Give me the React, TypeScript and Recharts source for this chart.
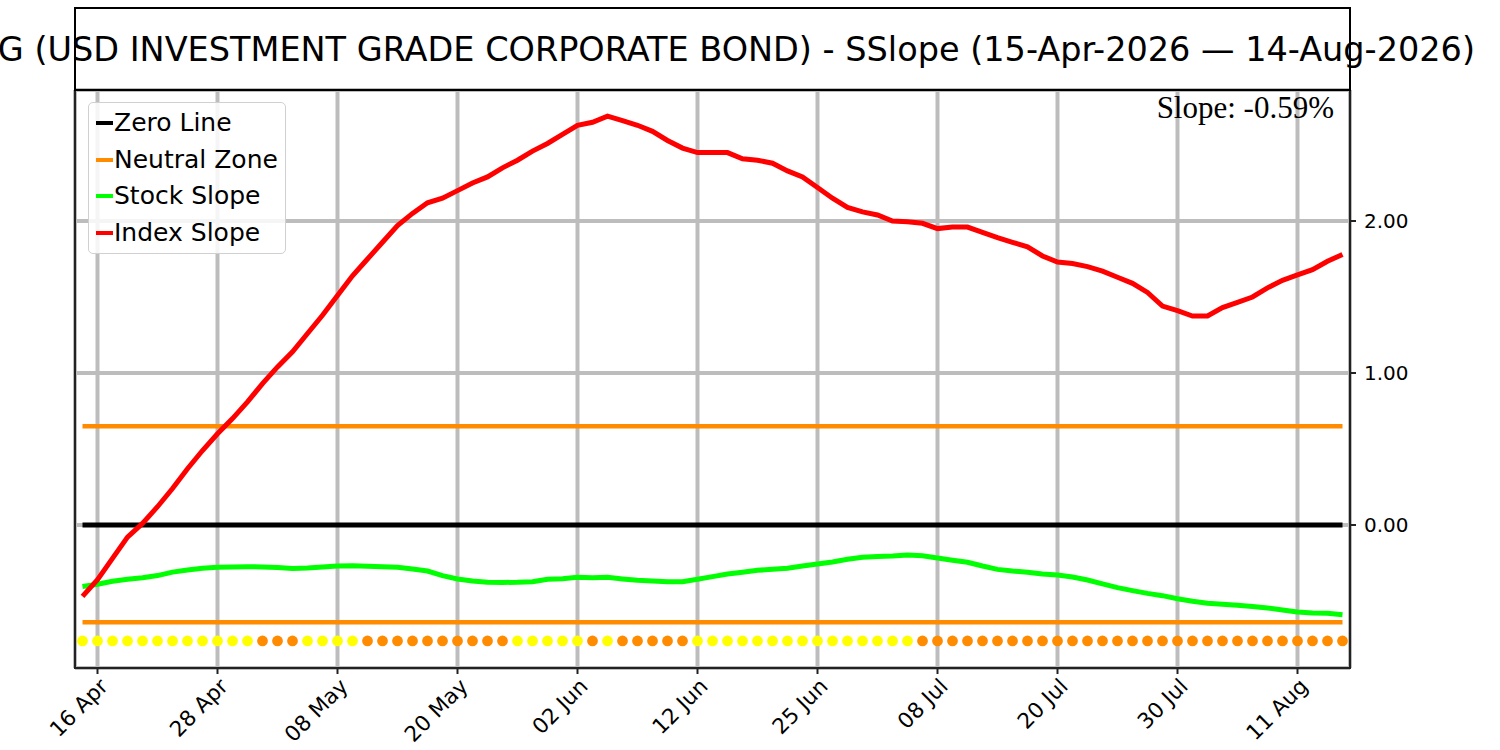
import React from "react";
import { ComposedChart, Line, XAxis, YAxis, CartesianGrid } from "recharts";

// one entry per trading day, 15-Apr-2026 .. 14-Aug-2026
const dates = [
  "15 Apr", "16 Apr", "17 Apr", "20 Apr", "21 Apr", "22 Apr", "23 Apr", "24 Apr", "27 Apr", "28 Apr",
  "29 Apr", "30 Apr", "01 May", "04 May", "05 May", "06 May", "07 May", "08 May", "11 May", "12 May",
  "13 May", "14 May", "15 May", "18 May", "19 May", "20 May", "21 May", "22 May", "26 May", "27 May",
  "28 May", "29 May", "01 Jun", "02 Jun", "03 Jun", "04 Jun", "05 Jun", "08 Jun", "09 Jun", "10 Jun",
  "11 Jun", "12 Jun", "15 Jun", "16 Jun", "17 Jun", "18 Jun", "22 Jun", "23 Jun", "24 Jun", "25 Jun",
  "26 Jun", "29 Jun", "30 Jun", "01 Jul", "02 Jul", "06 Jul", "07 Jul", "08 Jul", "09 Jul", "10 Jul",
  "13 Jul", "14 Jul", "15 Jul", "16 Jul", "17 Jul", "20 Jul", "21 Jul", "22 Jul", "23 Jul", "24 Jul",
  "27 Jul", "28 Jul", "29 Jul", "30 Jul", "31 Jul", "03 Aug", "04 Aug", "05 Aug", "06 Aug", "07 Aug",
  "10 Aug", "11 Aug", "12 Aug", "13 Aug", "14 Aug",
];

const indexSlope = [
  -0.47, -0.36, -0.22, -0.08, 0.01, 0.12, 0.24, 0.37, 0.49, 0.6,
  0.7, 0.81, 0.93, 1.04, 1.14, 1.26, 1.38, 1.51, 1.64, 1.75,
  1.86, 1.97, 2.05, 2.12, 2.15, 2.2, 2.25, 2.29, 2.35, 2.4,
  2.46, 2.51, 2.57, 2.63, 2.65, 2.69, 2.66, 2.63, 2.59, 2.53,
  2.48, 2.45, 2.45, 2.45, 2.41, 2.4, 2.38, 2.33, 2.29, 2.22,
  2.15, 2.09, 2.06, 2.04, 2.0, 1.995, 1.985, 1.95, 1.96, 1.96,
  1.925, 1.89, 1.86, 1.83, 1.77, 1.73, 1.72, 1.7, 1.67, 1.63,
  1.59, 1.53, 1.44, 1.41, 1.375, 1.375, 1.43, 1.465, 1.5, 1.56,
  1.61, 1.645, 1.68, 1.735, 1.78,
];

const stockSlope = [
  -0.405, -0.39, -0.37, -0.357, -0.347, -0.333, -0.31, -0.296, -0.285, -0.278,
  -0.276, -0.274, -0.276, -0.28, -0.287, -0.283, -0.276, -0.27, -0.268, -0.272,
  -0.274, -0.278, -0.29, -0.303, -0.333, -0.355, -0.368, -0.377, -0.378, -0.377,
  -0.373, -0.357, -0.353, -0.344, -0.347, -0.344, -0.355, -0.364, -0.368, -0.373,
  -0.373, -0.357, -0.34, -0.322, -0.311, -0.298, -0.292, -0.285, -0.27, -0.257,
  -0.243, -0.226, -0.213, -0.208, -0.204, -0.197, -0.202, -0.217, -0.232, -0.245,
  -0.27, -0.292, -0.303, -0.311, -0.322, -0.329, -0.342, -0.362, -0.388, -0.412,
  -0.432, -0.45, -0.465, -0.485, -0.502, -0.515, -0.522, -0.528, -0.537, -0.546,
  -0.559, -0.572, -0.579, -0.581, -0.59,
];

// Y = yellow, O = orange marker per day
const signal = [
  "Y", "Y", "Y", "Y", "Y", "Y", "Y", "Y", "Y", "Y", "Y", "Y", "O", "O", "O", "Y", "Y", "Y", "Y", "O",
  "O", "O", "O", "O", "O", "O", "O", "O", "O", "Y", "Y", "Y", "Y", "Y", "O", "Y", "O", "O", "O", "O",
  "O", "Y", "Y", "Y", "Y", "Y", "Y", "Y", "Y", "Y", "Y", "Y", "Y", "Y", "Y", "Y", "O", "O", "O", "O",
  "O", "O", "O", "O", "O", "O", "O", "O", "O", "O", "O", "O", "O", "O", "O", "O", "O", "O", "O", "O",
  "O", "O", "O", "O", "O",
];

const xTicks = [1, 9, 17, 25, 33, 41, 49, 57, 65, 73, 81];
const yTicks = [0, 1, 2];

const zeroLevel = 0;
const neutralUpper = 0.65;
const neutralLower = -0.64;
const markerLevel = -0.763;
const lastSlope = -0.59;

const signalColor: Record<string, string> = { Y: "#ffff00", O: "#ff8c00" };

const data = dates.map((d, i) => ({
  i,
  date: d,
  index: indexSlope[i],
  stock: stockSlope[i],
  zero: zeroLevel,
  nUp: neutralUpper,
  nLow: neutralLower,
  marker: markerLevel,
  sig: signal[i],
}));

const font = "'DejaVu Sans', sans-serif";

const legendItems = [
  { label: "Zero Line", color: "#000000" },
  { label: "Neutral Zone", color: "#ff8c00" },
  { label: "Stock Slope", color: "#00ff00" },
  { label: "Index Slope", color: "#ff0000" },
];

function DateTick(props: any) {
  const { x, y, payload } = props;
  return (
    <text
      transform={`translate(${x + 1},${y + 1}) rotate(-45)`}
      textAnchor="end"
      fontSize={21.5}
      fontFamily={font}
      fill="#000"
      dy="0.7em"
    >
      {dates[payload.value]}
    </text>
  );
}

function SignalDot(props: any) {
  const { cx, cy, payload, index } = props;
  if (cx == null || cy == null) return <g key={index} />;
  return <circle key={index} cx={cx} cy={cy} r={5.4} fill={signalColor[payload.sig]} />;
}

export default function App() {
  return (
    <div style={{ position: "absolute", left: 0, top: 0, width: 1500, height: 750, background: "#fff" }}>
      <ComposedChart width={1500} height={750} data={data} margin={{ top: 90, right: 90, bottom: 22, left: 75 }}>
        <CartesianGrid stroke="#bdbdbd" strokeWidth={4} />
        <XAxis
          dataKey="i"
          type="number"
          domain={[-0.5, 84.5]}
          ticks={xTicks}
          allowDataOverflow
          height={60}
          axisLine={false}
          tickLine={{ stroke: "#222", strokeWidth: 2 }}
          tickSize={6}
          tick={<DateTick />}
          interval={0}
        />
        <YAxis
          orientation="right"
          type="number"
          domain={[-0.941, 2.862]}
          ticks={yTicks}
          allowDataOverflow
          width={60}
          axisLine={false}
          tickLine={{ stroke: "#222", strokeWidth: 2 }}
          tickSize={6}
          tickMargin={8}
          tickFormatter={(v: number) => v.toFixed(2)}
          tick={{ fontSize: 20, fontFamily: font, fill: "#000" }}
        />
        <Line dataKey="zero" stroke="#000" strokeWidth={5} dot={false} isAnimationActive={false} />
        <Line dataKey="nUp" stroke="#ff8c00" strokeWidth={4.5} dot={false} isAnimationActive={false} />
        <Line dataKey="nLow" stroke="#ff8c00" strokeWidth={4.5} dot={false} isAnimationActive={false} />
        <Line dataKey="stock" stroke="#00ff00" strokeWidth={5} dot={false} isAnimationActive={false} />
        <Line dataKey="index" stroke="#ff0000" strokeWidth={5} dot={false} isAnimationActive={false} />
        <Line dataKey="marker" stroke="none" dot={<SignalDot />} activeDot={false} isAnimationActive={false} />
      </ComposedChart>

      <svg width={1500} height={750} style={{ position: "absolute", left: 0, top: 0, pointerEvents: "none" }}>
        <rect x={75} y={90} width={1275} height={578} fill="none" stroke="#222" strokeWidth={2} />
        <rect x={75} y={8} width={1275} height={82} fill="none" stroke="#000" strokeWidth={2} />
        <text x={1475} y={61} textAnchor="end" fontSize={33.5} fontFamily={font} fill="#000">
          G (USD INVESTMENT GRADE CORPORATE BOND) - SSlope (15-Apr-2026 — 14-Aug-2026)
        </text>
        <text x={1334} y={118} textAnchor="end" fontSize={31} fontFamily="'Liberation Serif', serif" fill="#000">
          {`Slope: ${lastSlope.toFixed(2)}%`}
        </text>
      </svg>

      <div
        style={{
          position: "absolute",
          left: 88,
          top: 102,
          width: 198,
          height: 152,
          boxSizing: "border-box",
          border: "1.5px solid #d0d0d0",
          borderRadius: 5,
          background: "rgba(255,255,255,0.85)",
          fontFamily: font,
          fontSize: 25,
          paddingTop: 2,
        }}
      >
        {legendItems.map((it) => (
          <div key={it.label} style={{ display: "flex", alignItems: "center", height: 36.5, paddingLeft: 7 }}>
            <span style={{ display: "inline-block", width: 17, height: 4, background: it.color, marginRight: 1 }} />
            <span style={{ color: "#000", lineHeight: "36px" }}>{it.label}</span>
          </div>
        ))}
      </div>
    </div>
  );
}
